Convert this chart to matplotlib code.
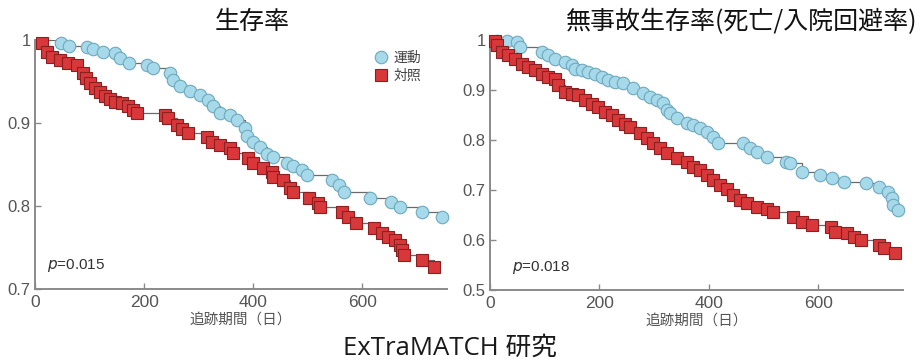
import matplotlib
matplotlib.use("Agg")
import matplotlib.pyplot as plt
from matplotlib.lines import Line2D

plt.rcParams['font.family'] = ['Noto Sans CJK JP', 'DejaVu Sans']

# ---- Data ----
# Left panel: overall survival
ex1_days = [48, 62, 95, 106, 124, 146, 156, 172, 205, 216, 247, 253, 265, 284, 302, 317, 326, 339,
            357, 370, 384, 388, 399, 412, 425, 436, 461, 472, 490, 498, 545, 558, 567, 613, 653, 668,
            710, 745]
ex1_surv = [0.996, 0.993, 0.992, 0.989, 0.986, 0.984, 0.978, 0.972, 0.970, 0.966, 0.960, 0.952,
            0.945, 0.939, 0.934, 0.928, 0.920, 0.912, 0.910, 0.904, 0.894, 0.884, 0.877, 0.871,
            0.863, 0.859, 0.852, 0.848, 0.843, 0.837, 0.831, 0.825, 0.817, 0.810, 0.805, 0.799,
            0.793, 0.787]
ct1_days = [13, 22, 31, 46, 60, 77, 88, 93, 101, 110, 119, 128, 137, 146, 159, 170, 179, 187, 238,
            243, 260, 269, 280, 315, 324, 339, 357, 362, 390, 399, 417, 434, 436, 454, 467, 472,
            503, 518, 522, 562, 573, 589, 622, 635, 646, 659, 668, 673, 677, 710, 732]
ct1_surv = [0.996, 0.986, 0.980, 0.976, 0.972, 0.970, 0.960, 0.954, 0.948, 0.942, 0.937, 0.933,
            0.929, 0.925, 0.924, 0.920, 0.916, 0.912, 0.910, 0.906, 0.898, 0.893, 0.888, 0.883,
            0.877, 0.873, 0.870, 0.864, 0.858, 0.852, 0.846, 0.841, 0.835, 0.831, 0.822, 0.817,
            0.810, 0.804, 0.799, 0.793, 0.787, 0.780, 0.773, 0.767, 0.763, 0.759, 0.753, 0.747,
            0.741, 0.735, 0.727]

# Right panel: event-free survival (death / hospitalisation avoided)
ex2_days = [13, 31, 49, 55, 95, 106, 119, 137, 150, 155, 168, 179, 192, 205, 215, 228, 243, 261,
            279, 292, 305, 316, 323, 329, 341, 360, 371, 383, 396, 407, 416, 462, 475, 488, 506,
            542, 548, 570, 603, 625, 648, 688, 712, 727, 734, 736, 745]
ex2_surv = [0.999, 0.998, 0.996, 0.986, 0.976, 0.970, 0.962, 0.956, 0.950, 0.942, 0.940, 0.936,
            0.932, 0.926, 0.920, 0.916, 0.914, 0.904, 0.894, 0.886, 0.880, 0.874, 0.860, 0.854,
            0.844, 0.834, 0.830, 0.824, 0.816, 0.806, 0.794, 0.794, 0.784, 0.776, 0.766, 0.756,
            0.754, 0.736, 0.730, 0.724, 0.716, 0.714, 0.706, 0.696, 0.684, 0.670, 0.660]
ct2_days = [9, 13, 22, 33, 46, 58, 69, 82, 95, 106, 119, 124, 137, 150, 161, 173, 186, 197, 210,
            223, 234, 247, 256, 274, 287, 298, 310, 323, 341, 360, 371, 383, 396, 407, 420, 433,
            444, 457, 469, 488, 506, 517, 553, 570, 588, 624, 630, 652, 666, 679, 712, 721, 740]
ct2_surv = [0.998, 0.990, 0.976, 0.970, 0.962, 0.952, 0.946, 0.940, 0.932, 0.926, 0.922, 0.910,
            0.896, 0.892, 0.890, 0.880, 0.872, 0.866, 0.856, 0.850, 0.840, 0.832, 0.826, 0.814,
            0.804, 0.794, 0.784, 0.774, 0.764, 0.756, 0.746, 0.740, 0.730, 0.720, 0.710, 0.702,
            0.690, 0.680, 0.674, 0.666, 0.662, 0.656, 0.646, 0.636, 0.630, 0.626, 0.616, 0.614,
            0.606, 0.600, 0.590, 0.584, 0.574]

titles = ["生存率", "無事故生存率(死亡/入院回避率)"]
xlabel = "追跡期間（日）"
legend_labels = ["運動", "対照"]
p_texts = ["0.015", "0.018"]
x_ticks = [0, 200, 400, 600]
y_ticks_left = [0.7, 0.8, 0.9, 1.0]
y_tick_labels_left = ["0.7", "0.8", "0.9", "1"]
y_ticks_right = [0.5, 0.6, 0.7, 0.8, 0.9, 1.0]
y_tick_labels_right = ["0.5", "0.6", "0.7", "0.8", "0.9", "1"]
footer = "ExTraMATCH 研究"

# ---- Styles ----
blue_face, blue_edge = "#a6d9e9", "#6fa9bd"
red_face, red_edge = "#d8383a", "#8c1f1f"
line_col = "#6a6a6a"
axis_col = "#8a8a8a"
tick_font = ['Liberation Sans', 'DejaVu Sans']
circ_ms, sq_ms = 9.0, 8.2

fig = plt.figure(figsize=(9.24, 3.62), dpi=100)
axL = fig.add_axes([35/924, 1 - 289/362, 412/924, 249/362])
axR = fig.add_axes([490/924, 1 - 290/362, 413/924, 250/362])


def draw(ax, ed, es, cd, cs, ylim, yt, ytl, ptxt, pxy, title, title_x):
    ax.plot([0] + ed, [1.0] + es, drawstyle="steps-post", color=line_col, lw=0.9, zorder=2)
    ax.plot([0] + cd, [1.0] + cs, drawstyle="steps-post", color=line_col, lw=0.9, zorder=2)
    ax.plot(ed, es, ls="none", marker="o", ms=circ_ms, mfc=blue_face, mec=blue_edge, mew=0.8,
            zorder=3, clip_on=False)
    ax.plot(cd, cs, ls="none", marker="s", ms=sq_ms, mfc=red_face, mec=red_edge, mew=0.8,
            zorder=4, clip_on=False)
    ax.set_xlim(0, 755)
    ax.set_ylim(*ylim)
    ax.set_xticks(x_ticks)
    ax.set_xticklabels([str(t) for t in x_ticks], family=tick_font, fontsize=12.5, color="#555555")
    ax.set_yticks(yt)
    ax.set_yticklabels(ytl, family=tick_font, fontsize=12, color="#555555")
    for s in ["top", "right"]:
        ax.spines[s].set_visible(False)
    for s in ["left", "bottom"]:
        ax.spines[s].set_color(axis_col)
        ax.spines[s].set_linewidth(1.4)
    ax.tick_params(axis="x", direction="in", length=4, width=1, color=axis_col, pad=4)
    ax.tick_params(axis="y", direction="in", length=4, width=1, color=axis_col, pad=3)
    ax.set_xlabel(xlabel, fontsize=10.5, color="#555555", labelpad=2)
    ax.text(pxy[0], pxy[1], "$p$=" + ptxt, fontsize=11, color="#333333",
            family=tick_font, va="center", ha="left")
    fig.text(title_x, 1 - 22/362, title, fontsize=18, ha="center", va="center",
             color="#111111")
    ax.patch.set_alpha(0)


draw(axL, ex1_days, ex1_surv, ct1_days, ct1_surv, (0.7, 1.0), y_ticks_left,
     y_tick_labels_left, p_texts[0], (22, 0.728), titles[0], 252/924)
draw(axR, ex2_days, ex2_surv, ct2_days, ct2_surv, (0.5, 1.0), y_ticks_right,
     y_tick_labels_right, p_texts[1], (40, 0.546), titles[1], 742/924)

handles = [Line2D([], [], ls="none", marker="o", ms=circ_ms, mfc=blue_face, mec=blue_edge, mew=0.8),
           Line2D([], [], ls="none", marker="s", ms=sq_ms, mfc=red_face, mec=red_edge, mew=0.8)]
leg = axL.legend(handles, legend_labels, loc="upper left", bbox_to_anchor=(0.80, 0.995),
                 frameon=False, fontsize=10, handlelength=1.0, handletextpad=0.4,
                 labelspacing=0.3, borderpad=0.2)
for t in leg.get_texts():
    t.set_color("#444444")

fig.text(450/924, 1 - 348/362, footer, fontsize=18.5, ha="center", va="center", color="#1a1a1a",
         family=['Open Sans', 'Noto Sans CJK JP'])

fig.savefig("out.png", dpi=100)
